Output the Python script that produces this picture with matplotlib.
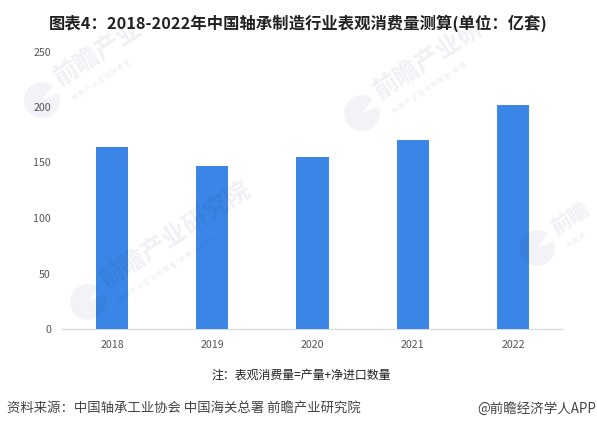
import matplotlib
matplotlib.use('Agg')
import matplotlib.pyplot as plt
from matplotlib.patches import Wedge

plt.rcParams['font.family'] = ['Noto Sans CJK SC', 'DejaVu Sans']

years = ['2018', '2019', '2020', '2021', '2022']
values = [164, 147, 155, 170.5, 202]
yticks = [0, 50, 100, 150, 200, 250]
title = '图表4：2018-2022年中国轴承制造行业表观消费量测算(单位：亿套)'
note = '注：表观消费量=产量+净进口数量'
source = '资料来源：中国轴承工业协会 中国海关总署 前瞻产业研究院'
credit = '@前瞻经济学人APP'
wm_main = ['前瞻产业', '前瞻产业研', '前瞻产业研究院', '前瞻']
wm_sub = ['中 国 产 业 咨 询 领 导 者 (',
          '中 国 产 业 咨 询 领 导 者 ( 股 票',
          '中 国 产 业 咨 询 领 导 者 ( 股 票 8 3 9 5 9 9 )',
          '中 国 产']
wm_size = [18, 18, 18, 15]

W, H = 597, 430
fig = plt.figure(figsize=(W / 100, H / 100), dpi=100, facecolor='white')
ax = fig.add_axes([62 / W, 1 - 329 / H, 501 / W, 277.5 / H])
ax.set_xlim(-0.5, 4.5)
ax.set_ylim(0, 250)
ax.bar(years, values, width=0.32, color='#3A85E6', zorder=3)
for s in ['top', 'right', 'left']:
    ax.spines[s].set_visible(False)
ax.spines['bottom'].set_color('#D9DDE3')
ax.spines['bottom'].set_linewidth(1)
ax.set_yticks(yticks)
ax.tick_params(axis='both', length=0, labelsize=7.7, labelcolor='#555555')
ax.tick_params(axis='x', pad=8)
ax.tick_params(axis='y', pad=8)

# watermarks: logo centre in pixels
logos = [(42, 100), (362, 113), (88, 302), (537, 248)]
WM = '#1F3A6B'
for (cx, cy), main, sub, size in zip(logos, wm_main, wm_sub, wm_size):
    fig.add_artist(Wedge((cx, H - cy), 18, 52, 22, transform=None, color=WM, alpha=0.06, lw=0))
    fig.text((cx + 21) / W, 1 - (cy - 9) / H, main, rotation=33, rotation_mode='anchor',
             fontsize=size, fontweight='bold', color=WM, alpha=0.075, ha='left', va='bottom')
    fig.text((cx + 33) / W, 1 - (cy + 2) / H, sub, rotation=33, rotation_mode='anchor',
             fontsize=4.6, color=WM, alpha=0.09, ha='left', va='bottom')

fig.text(298 / W, 1 - 23 / H, title, fontsize=11.75, fontweight='bold', color='#222222', ha='center', va='center')
fig.text(301 / W, 1 - 375 / H, note, fontsize=8.6, color='#222222', ha='center', va='center')
fig.text(7 / W, 1 - 409 / H, source, fontsize=9.6, color='#444444', ha='left', va='center')
fig.text(596.5 / W, 1 - 409 / H, credit, fontsize=9.7, color='#444444', ha='right', va='center')

fig.savefig('out.png', dpi=100)
